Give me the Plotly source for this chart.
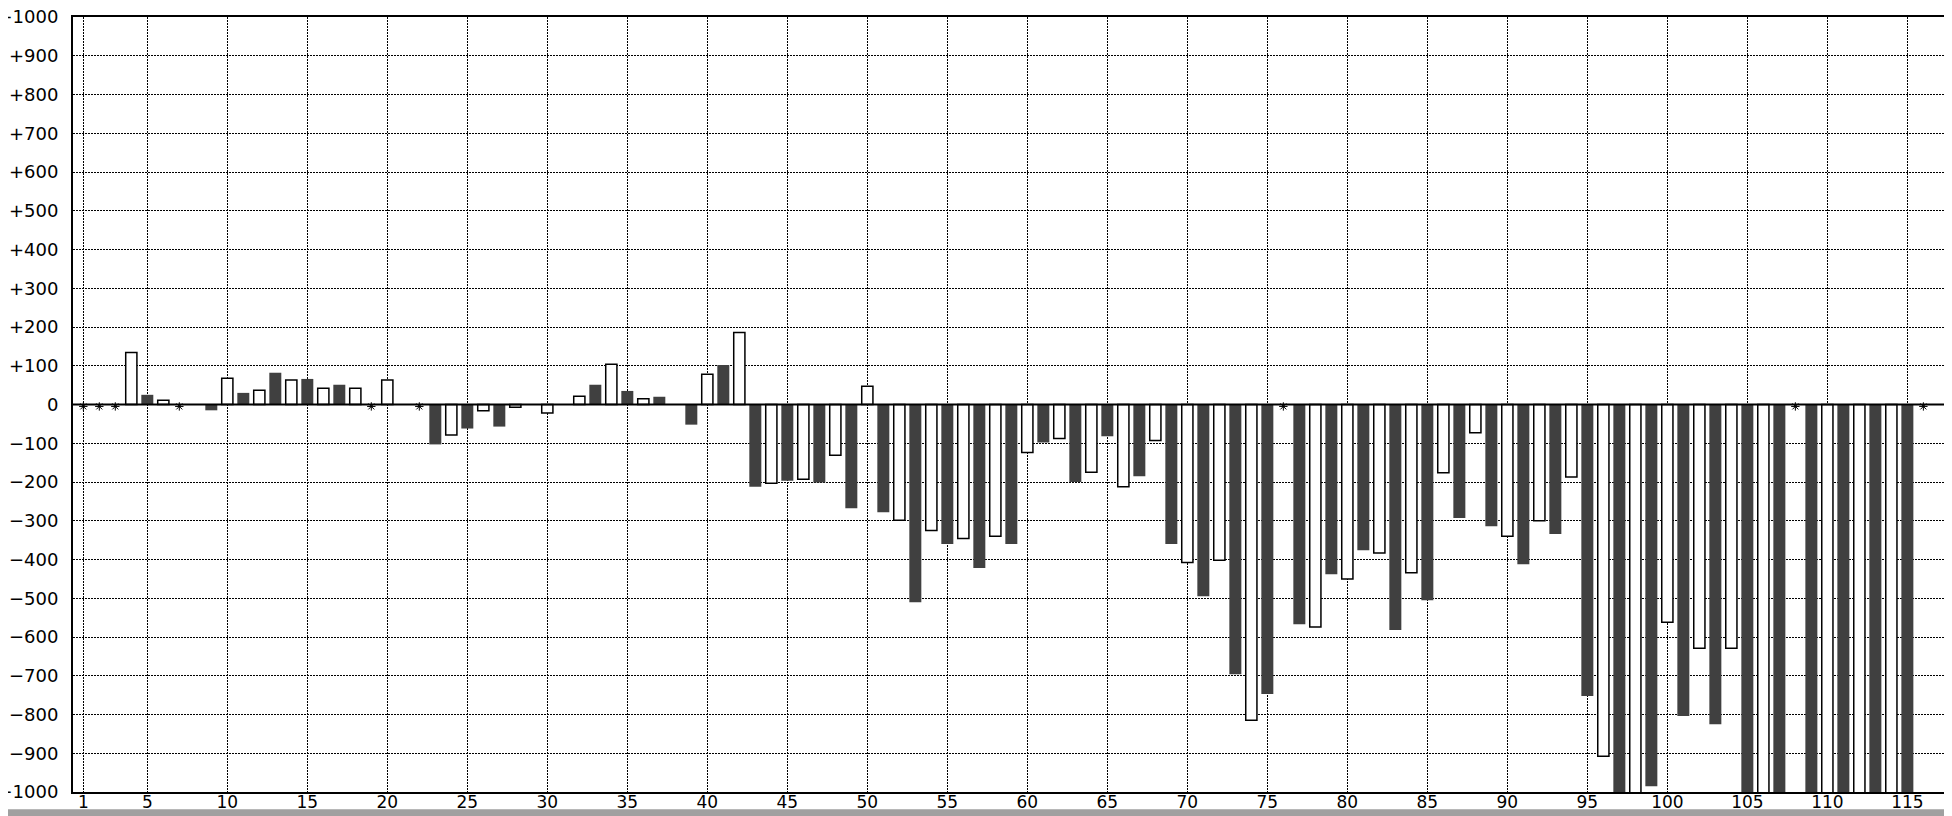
import plotly.graph_objects as go

# ---------------- data ----------------
positions = list(range(1, 117))
values = [
    None, None, None, 134, 25, 11, None, None, -15, 68,          # 1-10
    30, 37, 82, 63, 66, 42, 51, 42, None, 63,                    # 11-20
    None, None, -103, -79, -62, -16, -57, -7, None, -22,         # 21-30
    None, 21, 51, 104, 35, 15, 20, None, -52, 78,                # 31-40
    102, 186, -212, -203, -197, -193, -201, -131, -268, 47,      # 41-50
    -278, -299, -510, -325, -360, -346, -422, -340, -360, -124,  # 51-60
    -98, -88, -200, -175, -82, -212, -185, -93, -360, -408,      # 61-70
    -495, -402, -696, -815, -747, None, -567, -574, -438, -450,  # 71-80
    -376, -383, -582, -434, -505, -176, -293, -73, -314, -340,   # 81-90
    -412, -300, -334, -187, -752, -908, -1100, -1100, -985, -562,  # 91-100
    -804, -629, -825, -629, -1100, -1100, -1100, None, -1100, -1100,  # 101-110
    -1100, -1100, -1100, -1100, -1100, None,                     # 111-116
]
no_data_positions = [1, 2, 3, 7, 19, 22, 76, 108, 116]

x_ticks = [1] + list(range(5, 116, 5))
y_ticks = list(range(-1000, 1001, 100))
y_ticktext = [("+" + str(v)) if v > 0 else ("0" if v == 0 else "\u2212" + str(-v)) for v in y_ticks]

# ---------------- figure ----------------
dark_x = [p for p, v in zip(positions, values) if p % 2 == 1]
dark_y = [v for p, v in zip(positions, values) if p % 2 == 1]
white_x = [p for p, v in zip(positions, values) if p % 2 == 0]
white_y = [v for p, v in zip(positions, values) if p % 2 == 0]

fig = go.Figure()
fig.add_bar(x=dark_x, y=dark_y, width=0.75,
            marker=dict(color="#404040", line=dict(width=0)))
fig.add_bar(x=white_x, y=white_y, width=0.7,
            marker=dict(color="white", line=dict(color="black", width=1.5)))
fig.add_scatter(x=no_data_positions, y=[-5] * len(no_data_positions), mode="markers",
                marker=dict(symbol="asterisk-open", size=7,
                            line=dict(width=1, color="black"), color="black"))

xfont = dict(family="DejaVu Sans", size=17, color="black")
yfont = dict(family="DejaVu Sans", size=18, color="black")

# page body has an 8px default margin, so the figure is 8px smaller each way
fig.update_layout(
    width=1944, height=808,
    margin=dict(l=65, r=0, t=9, b=24, autoexpand=False),
    paper_bgcolor="white", plot_bgcolor="white",
    barmode="overlay", showlegend=False,
    font=xfont,
    xaxis=dict(range=[0.356, 117.79], tickmode="array", tickvals=x_ticks,
               ticktext=[str(v) for v in x_ticks],
               showgrid=True, gridcolor="black", gridwidth=1, griddash="2px,1px",
               showline=True, linecolor="black", linewidth=2, mirror=True,
               zeroline=False, ticks="", tickfont=xfont, automargin=False,
               ticklabelstandoff=-6),
    yaxis=dict(range=[-1000, 1000], tickmode="array", tickvals=y_ticks, ticktext=y_ticktext,
               showgrid=True, gridcolor="black", gridwidth=1, griddash="2px,1px",
               showline=True, linecolor="black", linewidth=2, mirror=False,
               zeroline=False, ticks="", tickfont=yfont, ticklabelstandoff=9,
               ticklabeloverflow="allow", automargin=False),
    shapes=[
        dict(type="line", xref="paper", x0=0, x1=1, yref="y", y0=0, y1=0,
             line=dict(color="black", width=2), layer="above"),
        dict(type="rect", xref="paper", x0=-0.05, x1=1.01, yref="paper",
             y0=-0.0320, y1=-0.0223, fillcolor="#a0a0a0", line=dict(width=0), layer="above"),
    ],
)

fig.write_html("out.html")
